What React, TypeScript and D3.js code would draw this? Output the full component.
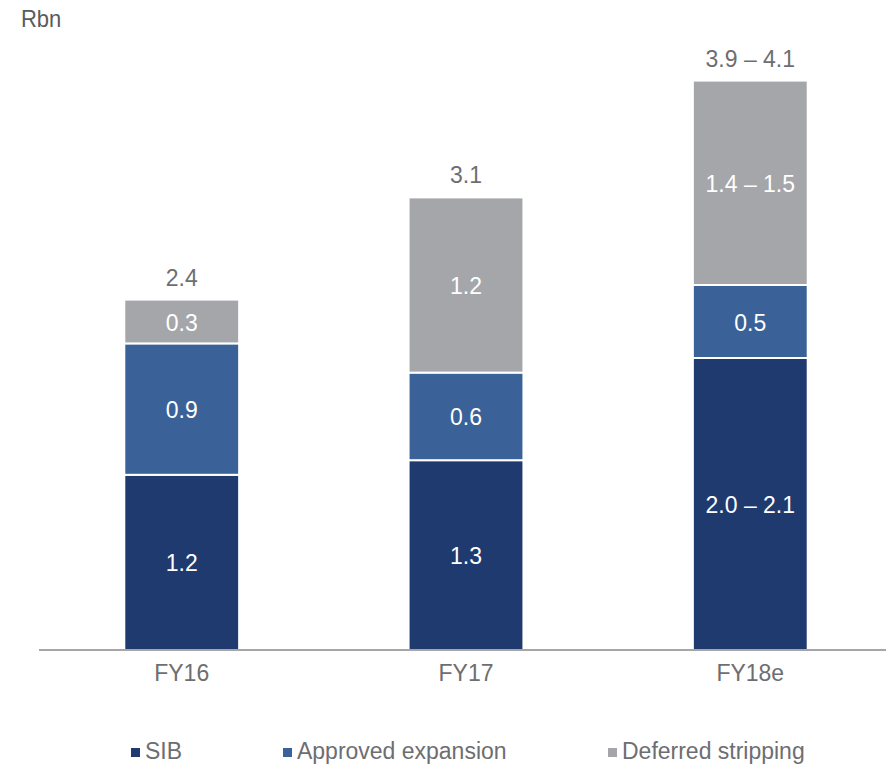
import React from "react";
import * as d3 from "d3";

const categories = ["FY16", "FY17", "FY18e"];
const seriesNames = ["SIB", "Approved expansion", "Deferred stripping"];
const sibValues = [1.2, 1.3, 2.0];
const approvedValues = [0.9, 0.6, 0.5];
const deferredValues = [0.3, 1.2, 1.4];
const sibLabels = ["1.2", "1.3", "2.0 – 2.1"];
const approvedLabels = ["0.9", "0.6", "0.5"];
const deferredLabels = ["0.3", "1.2", "1.4 – 1.5"];
const totalLabels = ["2.4", "3.1", "3.9 – 4.1"];
const colors = ["#1F3A6E", "#3A6298", "#A5A6AA"];

const W = 886;
const H = 765;
const FONT = "'Liberation Sans', Arial, sans-serif";
const TEXT = "#6D6E71";
const FS = 23;

function T(props: { x: number; y: number; fill: string; size?: number; anchor?: string; children: React.ReactNode }) {
  const { x, y, fill, size = FS, anchor = "middle", children } = props;
  return (
    <text
      transform={`translate(${x},${y}) scale(1,1.08)`}
      textAnchor={anchor as any}
      fontSize={size}
      fill={fill}
    >
      {children}
    </text>
  );
}

export default function App() {
  const x = d3.scaleBand<string>().domain(categories).range([39, 893]).paddingInner(0.596).paddingOuter(0.3);
  const y = d3.scaleLinear().domain([0, 4]).range([650, 66]);

  const rows = categories.map((c, i) => ({
    cat: c,
    values: [sibValues[i], approvedValues[i], deferredValues[i]],
    labels: [sibLabels[i], approvedLabels[i], deferredLabels[i]],
    total: totalLabels[i],
  }));

  const legendX = [131, 283, 608];

  return (
    <svg width={W} height={H} style={{ position: "absolute", left: 0, top: 0, background: "#fff" }} fontFamily={FONT}>
      <T x={21} y={27} size={22} fill="#5A5B5E" anchor="start">Rbn</T>
      {rows.map((r) => {
        let acc = 0;
        const bx = x(r.cat)!;
        const bw = x.bandwidth();
        const segs = r.values.map((v, k) => {
          const y0 = y(acc);
          const y1 = y(acc + v);
          acc += v;
          return (
            <g key={k}>
              <rect x={bx} y={y1} width={bw} height={y0 - y1} fill={colors[k]} stroke="#fff" strokeWidth={2} />
              <T x={bx + bw / 2} y={(y0 + y1) / 2 + 9} fill="#fff">{r.labels[k]}</T>
            </g>
          );
        });
        return (
          <g key={r.cat}>
            {segs}
            <T x={bx + bw / 2} y={y(acc) - 14} fill={TEXT}>{r.total}</T>
            <T x={bx + bw / 2} y={681} fill={TEXT}>{r.cat}</T>
          </g>
        );
      })}
      <line x1={39} x2={886} y1={650} y2={650} stroke="#A5A6AA" strokeWidth={2} />
      {seriesNames.map((s, k) => (
        <g key={s}>
          <rect x={legendX[k]} y={748} width={9} height={9} fill={colors[k]} />
          <T x={legendX[k] + 14} y={759} fill={TEXT} anchor="start">{s}</T>
        </g>
      ))}
    </svg>
  );
}
